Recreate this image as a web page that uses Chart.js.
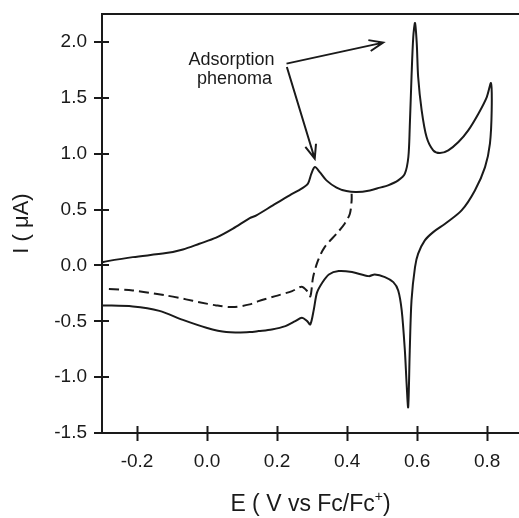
<!DOCTYPE html>
<html>
<head>
<meta charset="utf-8">
<script src="https://cdn.jsdelivr.net/npm/chart.js@4.4.1/dist/chart.umd.min.js"></script>
<style>
  html, body { margin: 0; padding: 0; background: #fff; }
  #wrap { width: 519px; height: 518px; position: relative; }
</style>
</head>
<body>
<div id="wrap"><canvas id="myChart"></canvas></div>
<script>
// cyclic voltammogram, full sweep (solid): -0.3 -> 0.81 -> -0.3 V
const solidE = [-0.300, -0.288, -0.212, -0.117, -0.069, -0.022, 0.026, 0.074, 0.122, 0.141, 0.188, 0.236, 0.270, 0.288, 0.298, 0.308, 0.322, 0.341, 0.370, 0.398, 0.427, 0.465, 0.494, 0.517, 0.546, 0.565, 0.575, 0.579, 0.584, 0.589, 0.594, 0.599, 0.603, 0.613, 0.627, 0.646, 0.665, 0.689, 0.718, 0.746, 0.775, 0.799, 0.811,
  0.813, 0.808, 0.794, 0.765, 0.727, 0.680, 0.646, 0.622, 0.603, 0.594, 0.584, 0.579, 0.5745, 0.570, 0.565, 0.556, 0.546, 0.532, 0.508, 0.479, 0.462, 0.414, 0.376, 0.348, 0.329, 0.314, 0.305, 0.295, 0.286, 0.271, 0.252, 0.224, 0.185, 0.147, 0.122, 0.055, -0.002, -0.069, -0.136, -0.212, -0.300];
const solidI = [0.027, 0.036, 0.074, 0.110, 0.143, 0.194, 0.248, 0.329, 0.423, 0.448, 0.537, 0.627, 0.687, 0.731, 0.821, 0.880, 0.835, 0.761, 0.696, 0.665, 0.656, 0.671, 0.696, 0.716, 0.761, 0.821, 0.970, 1.238, 1.686, 2.044, 2.169, 1.985, 1.686, 1.388, 1.149, 1.030, 1.005, 1.030, 1.104, 1.209, 1.358, 1.507, 1.632,
  1.388, 1.090, 0.880, 0.671, 0.492, 0.373, 0.298, 0.224, 0.105, -0.015, -0.313, -0.761, -1.269, -1.059, -0.761, -0.403, -0.224, -0.150, -0.105, -0.081, -0.096, -0.060, -0.051, -0.081, -0.155, -0.244, -0.394, -0.528, -0.499, -0.468, -0.499, -0.543, -0.573, -0.588, -0.597, -0.597, -0.558, -0.488, -0.407, -0.367, -0.358];

// reverse scan started at 0.41 V (dashed)
const dashedE = [0.413, 0.413, 0.408, 0.393, 0.370, 0.336, 0.317, 0.303, 0.295, 0.286, 0.270, 0.243, 0.195, 0.147, 0.122, 0.074, 0.026, -0.022, -0.060, -0.117, -0.212, -0.288];
const dashedI = [0.642, 0.582, 0.463, 0.373, 0.284, 0.164, 0.045, -0.105, -0.278, -0.230, -0.191, -0.230, -0.275, -0.320, -0.349, -0.373, -0.358, -0.329, -0.304, -0.269, -0.224, -0.210];

const xTicks = [-0.2, 0.0, 0.2, 0.4, 0.6, 0.8];
const yTicks = [-1.5, -1.0, -0.5, 0.0, 0.5, 1.0, 1.5, 2.0];

const xTitle = 'E ( V vs Fc/Fc';
const yTitle = 'I ( \u03bcA)';
const noteLines = ['Adsorption', 'phenoma'];
const noteAt = [0.070, 1.795, 1.627];          // x centre, baseline of each line
const arrows = [[0.227, 1.806, 0.503, 1.994], [0.228, 1.775, 0.3076, 0.955]];

const ink = '#1a1a1a';
const FONT = '"Liberation Sans", Arial, sans-serif';

function pts(xs, ys) {
  return xs.map((v, i) => ({x: v, y: ys[i]}));
}

const extras = {
  id: 'extras',
  afterDraw(chart) {
    const ctx = chart.ctx;
    const xs = chart.scales.x, ys = chart.scales.y;
    const a = chart.chartArea;
    ctx.save();
    ctx.strokeStyle = ink;
    ctx.lineWidth = 2;
    // frame: left, bottom, top
    ctx.beginPath();
    ctx.moveTo(a.left, a.top); ctx.lineTo(a.left, a.bottom);
    ctx.moveTo(a.left - 7, a.bottom); ctx.lineTo(chart.width, a.bottom);
    ctx.moveTo(a.left - 1, a.top); ctx.lineTo(chart.width, a.top);
    ctx.stroke();
    // tick marks crossing the axes
    ctx.beginPath();
    xTicks.forEach(v => {
      const p = Math.round(xs.getPixelForValue(v)) + 0.5;
      ctx.moveTo(p, a.bottom - 7); ctx.lineTo(p, a.bottom + 8);
    });
    yTicks.forEach(v => {
      const p = Math.round(ys.getPixelForValue(v));
      ctx.moveTo(a.left - 8, p); ctx.lineTo(a.left + 7, p);
    });
    ctx.stroke();

    // annotation arrows
    ctx.lineWidth = 2;
    arrows.forEach(r => {
      const x0 = xs.getPixelForValue(r[0]), y0 = ys.getPixelForValue(r[1]);
      const x1 = xs.getPixelForValue(r[2]), y1 = ys.getPixelForValue(r[3]);
      const ang = Math.atan2(y1 - y0, x1 - x0);
      ctx.beginPath();
      ctx.moveTo(x0, y0); ctx.lineTo(x1, y1);
      ctx.moveTo(x1 - 15 * Math.cos(ang - 0.38), y1 - 15 * Math.sin(ang - 0.38));
      ctx.lineTo(x1, y1);
      ctx.lineTo(x1 - 15 * Math.cos(ang + 0.38), y1 - 15 * Math.sin(ang + 0.38));
      ctx.stroke();
    });

    ctx.fillStyle = ink;
    ctx.font = '18px ' + FONT;
    ctx.textAlign = 'center';
    ctx.textBaseline = 'alphabetic';
    const nx = xs.getPixelForValue(noteAt[0]);
    ctx.fillText(noteLines[0], nx, ys.getPixelForValue(noteAt[1]));
    ctx.fillText(noteLines[1], nx + 3, ys.getPixelForValue(noteAt[2]));

    // x title with superscript +
    ctx.font = '23px ' + FONT;
    const w1 = ctx.measureText(xTitle).width;
    ctx.font = '14px ' + FONT;
    const w2 = ctx.measureText('+').width;
    ctx.font = '23px ' + FONT;
    const w3 = ctx.measureText(')').width;
    let tx = (a.left + a.right) / 2 - (w1 + w2 + w3) / 2;
    const by = 511;
    ctx.textAlign = 'left';
    ctx.fillText(xTitle, tx, by);
    ctx.font = '14px ' + FONT;
    ctx.fillText('+', tx + w1, by - 10);
    ctx.font = '23px ' + FONT;
    ctx.fillText(')', tx + w1 + w2, by);

    // y title
    ctx.font = '22px ' + FONT;
    ctx.translate(28, (a.top + a.bottom) / 2);
    ctx.rotate(-Math.PI / 2);
    ctx.textAlign = 'center';
    ctx.fillText(yTitle, 0, 0);
    ctx.restore();
  }
};

const config = {
  type: 'scatter',
  data: {
    datasets: [{
      data: pts(solidE, solidI),
      showLine: true,
      borderColor: ink,
      borderWidth: 2,
      pointRadius: 0,
      tension: 0.3
    }, {
      data: pts(dashedE, dashedI),
      showLine: true,
      borderColor: ink,
      borderWidth: 2,
      borderDash: [10, 5],
      pointRadius: 0,
      tension: 0.3
    }]
  },
  options: {
    responsive: true,
    maintainAspectRatio: false,
    animation: false,
    layout: { padding: { top: 14, right: 0, left: 0, bottom: 0 } },
    plugins: { legend: { display: false }, tooltip: { enabled: false } },
    scales: {
      x: {
        type: 'linear',
        min: -0.3,
        max: 0.891,
        afterBuildTicks: s => { s.ticks = xTicks.map(v => ({value: v})); },
        afterFit: s => { s.height = 85; s.paddingLeft = 0; s.paddingRight = 0; },
        grid: { display: false, drawTicks: false },
        border: { display: false },
        ticks: {
          color: ink,
          font: { family: FONT, size: 19 },
          padding: 17,
          callback: v => v.toFixed(1)
        }
      },
      y: {
        type: 'linear',
        min: -1.5,
        max: 2.25,
        afterBuildTicks: s => { s.ticks = yTicks.map(v => ({value: v})); },
        afterFit: s => { s.width = 102; s.paddingTop = 0; s.paddingBottom = 0; },
        grid: { display: false, drawTicks: false },
        border: { display: false },
        ticks: {
          color: ink,
          font: { family: FONT, size: 19 },
          padding: 15,
          callback: v => v.toFixed(1)
        }
      }
    }
  },
  plugins: [extras]
};

const myChart = new Chart(document.getElementById('myChart'), config);
</script>
</body>
</html>
